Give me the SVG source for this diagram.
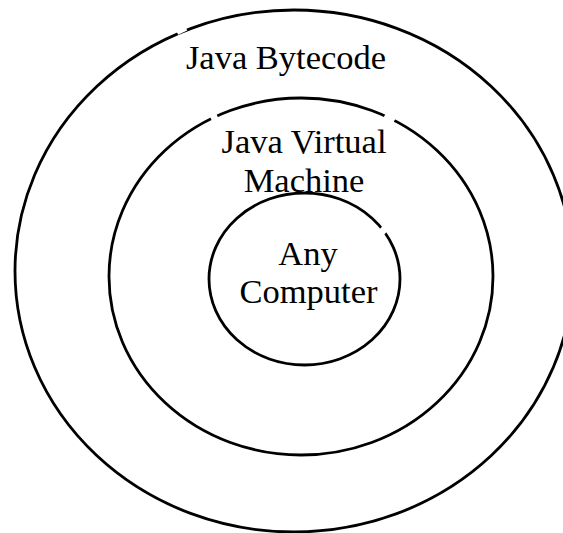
<svg xmlns="http://www.w3.org/2000/svg" width="563" height="533" viewBox="0 0 563 533">
<style>
.ring{fill:none;stroke:#000;stroke-width:2.8}
.lbl{font-family:"Liberation Serif","Times New Roman",serif;font-size:34.5px;fill:#000;text-anchor:middle}
.gap{fill:#fff;stroke:none}
</style>
<rect width="563" height="533" fill="#fff"/>
<g id="outer">
<ellipse class="ring" cx="294" cy="271" rx="279" ry="261"/>
<text class="lbl" x="286" y="69">Java Bytecode</text>
</g>
<g id="middle">
<ellipse class="ring" cx="301" cy="276.5" rx="192" ry="178.5"/>
<text class="lbl" x="304" y="153">Java Virtual</text>
<text class="lbl" x="304" y="192">Machine</text>
</g>
<g id="inner">
<ellipse class="ring" cx="304.5" cy="279" rx="95.5" ry="86"/>
<text class="lbl" x="308" y="265">Any</text>
<text class="lbl" x="308.5" y="303">Computer</text>
</g>
<g id="breaks">
<rect class="gap" x="176" y="25" width="10" height="8" transform="rotate(-25 181 29)"/>
<rect class="gap" x="210" y="112" width="7" height="8" transform="rotate(-25 213.5 116)"/>
<rect class="gap" x="384" y="114" width="11" height="8" transform="rotate(30 389 118)"/>
<rect class="gap" x="380" y="226" width="7" height="8" transform="rotate(45 383 230)"/>
</g>
</svg>
